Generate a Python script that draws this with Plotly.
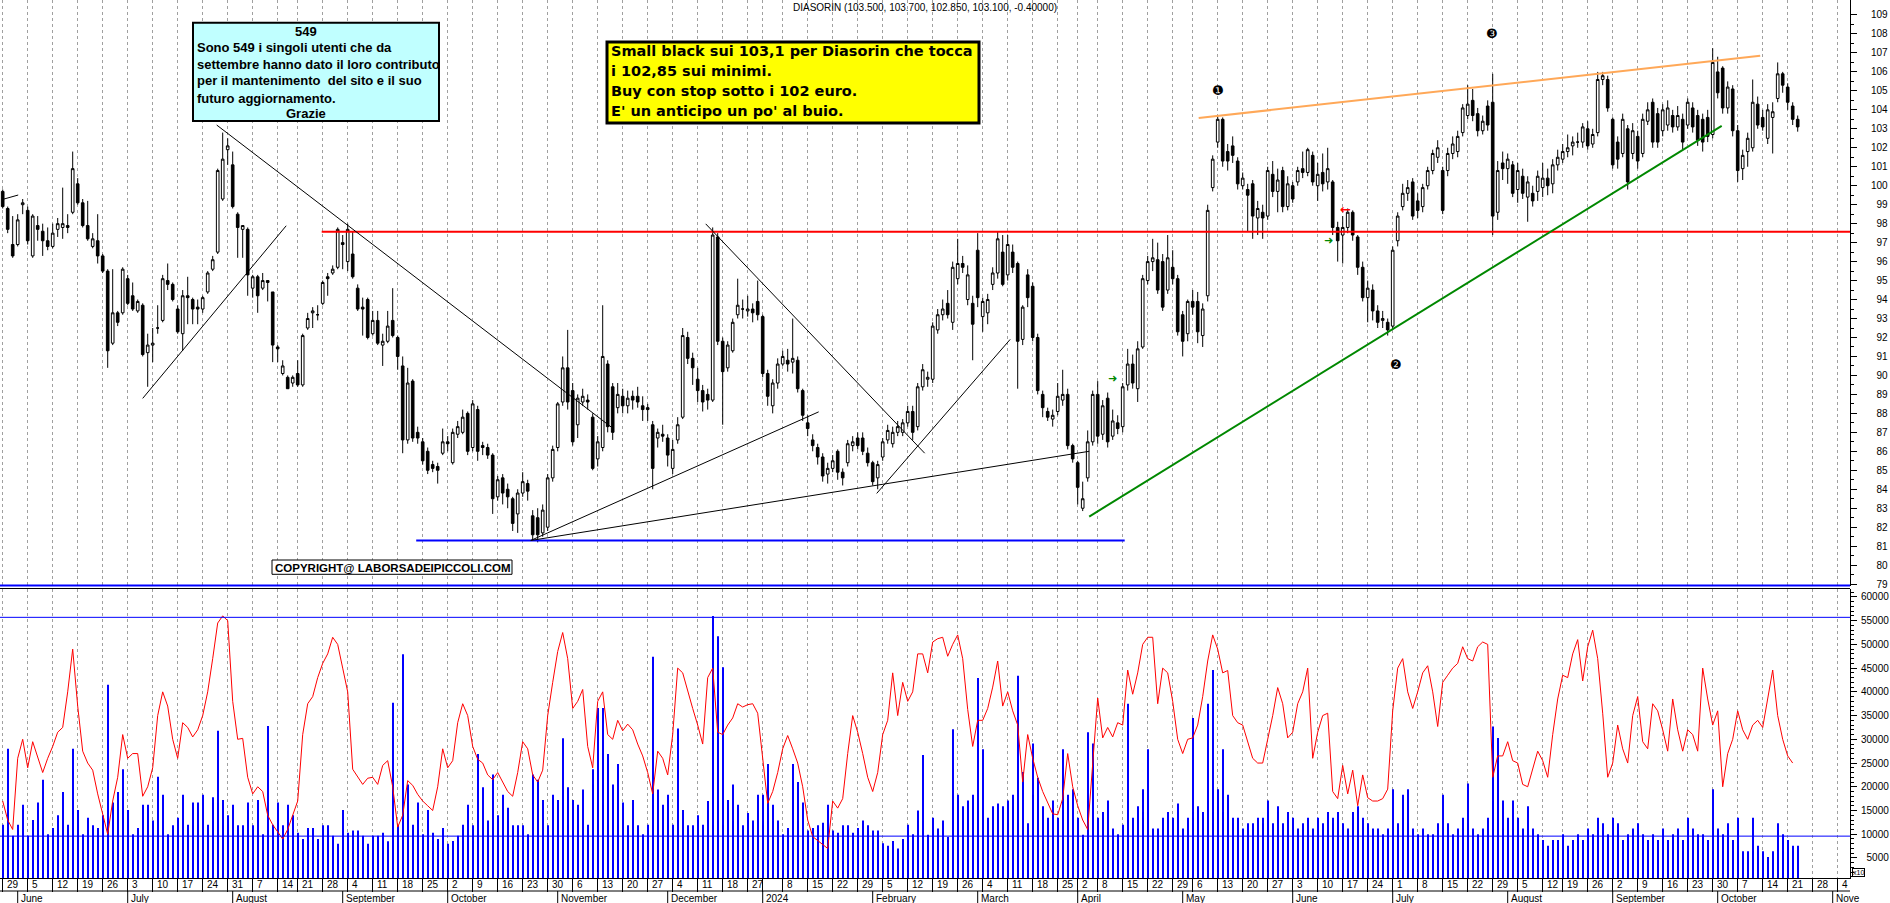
import numpy as np
import pandas as pd
import plotly.graph_objects as go

# ------------------------------------------------------------------ data
holidays = ["2023-08-15", "2023-12-25", "2023-12-26", "2024-01-01",
            "2024-03-29", "2024-04-01", "2024-05-01", "2024-08-15"]
first_day, axis_end = "2023-05-29", "2024-11-08"

opens = [
 99.7,98.8,96.9,96.9,99.0,98.7,96.3,97.9,97.6,97.1,
 96.8,97.7,97.8,97.9,98.6,100.1,99.1,97.9,96.8,97.1,
 96.3,95.5,91.7,93.3,93.3,95.1,94.2,93.4,93.7,91.2,
 91.6,92.5,92.9,95.0,94.8,93.5,92.2,94.2,94.0,93.6,
 93.5,94.4,95.6,96.5,99.3,101.9,101.1,98.5,97.7,97.7,
 94.6,95.2,94.6,95.0,94.4,91.5,90.1,89.9,89.6,90.1,
 89.5,92.5,93.3,93.2,93.8,95.2,95.4,95.7,97.0,96.0,
 96.4,94.6,93.6,94.0,92.2,92.9,91.6,91.8,92.9,92.0,
 90.5,86.6,89.7,87.0,86.5,86.0,85.3,85.2,85.9,86.5,
 85.4,86.9,87.0,88.0,86.2,88.2,86.3,86.2,85.8,83.6,
 84.6,84.0,83.5,82.7,83.8,84.3,82.6,82.5,81.7,82.0,
 84.6,86.2,88.6,90.4,89.2,87.4,88.6,88.7,87.8,85.6,
 86.2,90.6,89.4,88.3,88.9,88.4,88.9,88.9,88.4,88.3,
 87.4,86.7,86.9,86.7,85.1,86.6,87.8,92.0,90.9,89.8,
 89.2,89.0,88.7,97.3,91.8,90.4,91.3,93.2,93.5,93.4,
 93.5,93.9,93.1,90.1,88.4,89.6,90.6,90.8,90.7,90.8,
 89.2,87.5,86.6,86.2,85.7,84.8,85.1,86.0,84.9,85.4,
 86.3,86.7,86.7,85.9,85.4,84.6,85.7,86.6,86.4,87.0,
 87.0,87.5,88.1,87.3,89.4,89.8,89.8,92.4,93.2,93.8,
 92.8,95.1,95.9,94.0,93.8,96.6,93.1,93.3,94.8,95.4,
 96.5,95.3,96.5,95.9,91.9,95.3,94.7,92.0,89.0,88.1,
 87.7,88.1,88.7,89.0,86.3,85.4,83.0,84.6,86.5,89.0,
 86.9,88.8,86.8,87.5,87.3,89.5,90.6,89.3,91.5,95.0,
 96.0,96.1,96.0,94.5,95.7,95.1,93.2,92.2,93.9,93.9,
 92.1,94.2,99.9,102.3,103.5,101.8,102.1,101.3,100.0,99.8,
 100.1,98.3,98.6,98.4,100.6,99.7,100.8,98.9,100.0,100.2,
 100.9,100.7,101.6,100.0,100.7,100.2,100.2,97.8,97.4,97.8,
 98.6,97.3,95.7,94.1,94.5,93.4,92.9,92.8,92.6,97.1,
 98.9,99.6,100.2,99.2,98.9,100.0,100.8,101.5,100.8,100.8,
 101.7,101.8,102.8,103.7,104.5,103.8,102.9,104.2,104.4,98.6,
 101.2,100.9,101.1,99.8,100.5,99.4,99.6,99.7,99.9,100.4,
 100.1,101.1,101.4,101.8,102.1,102.3,102.3,103.0,102.2,102.8,
 105.6,105.6,103.5,102.3,101.7,103.0,101.7,102.6,101.7,103.4,
 104.4,103.8,102.9,103.2,103.7,103.1,103.5,103.2,104.1,103.7,
 103.5,103.6,102.7,106.0,106.2,104.1,105.1,102.9,100.9,101.8,
 102.0,104.3,103.6,102.5,103.6,104.6,105.9,105.2,104.2,103.5]

highs = [
 99.8,98.9,98.4,98.5,99.3,98.9,98.5,98.4,98.0,97.8,
 98.0,98.3,99.9,98.5,101.8,100.4,99.3,99.2,97.5,98.5,
 96.4,95.6,95.6,93.4,95.7,95.3,94.9,94.0,93.8,92.2,
 92.5,93.7,95.3,95.9,94.9,93.7,94.5,95.2,94.1,94.0,
 94.2,95.5,96.3,100.9,102.8,102.5,101.8,98.6,97.9,97.8,
 95.3,95.3,95.4,95.0,94.4,91.6,90.8,90.0,90.0,90.8,
 92.2,93.3,93.6,93.7,95.0,95.4,95.8,97.8,97.4,98.0,
 97.6,94.8,94.1,94.1,93.4,93.4,92.2,93.4,94.6,92.1,
 91.0,90.4,89.8,87.3,86.7,86.2,85.5,85.4,87.2,86.8,
 87.2,87.6,88.2,88.1,88.7,88.4,86.5,86.4,85.9,84.7,
 84.8,84.3,83.6,84.0,84.9,84.5,82.9,83.0,83.2,84.8,
 86.3,88.6,91.0,92.4,89.6,89.0,89.3,89.0,88.0,86.8,
 93.7,90.8,89.6,89.6,89.3,89.2,89.2,89.4,88.9,88.5,
 87.6,87.2,87.4,86.9,86.6,87.8,92.5,92.3,91.2,90.4,
 89.5,89.3,97.8,97.5,92.0,91.8,93.0,95.1,94.0,94.2,
 93.8,95.0,93.2,90.3,89.8,90.9,91.3,91.4,93.0,91.0,
 89.3,87.9,86.9,86.4,85.9,85.4,85.8,86.1,85.1,86.6,
 86.8,87.0,87.0,86.2,85.5,85.5,86.7,87.4,87.3,87.6,
 87.7,88.4,88.4,89.6,90.6,90.2,92.8,93.5,94.0,94.5,
 96.0,97.2,96.3,95.8,94.2,97.5,94.1,94.3,95.7,97.6,
 97.4,97.4,96.9,96.0,93.7,95.6,94.9,92.2,89.2,88.3,
 88.2,89.6,90.3,89.3,86.4,85.5,84.4,87.1,89.2,89.7,
 88.7,89.1,88.2,87.9,89.6,91.4,91.1,91.8,95.3,96.3,
 97.2,97.0,96.4,97.4,96.6,95.3,93.4,94.0,94.5,94.4,
 93.8,99.0,101.6,103.7,103.6,102.2,102.6,101.5,100.7,100.1,
 100.3,99.2,99.0,101.0,101.3,100.9,101.0,100.5,100.2,101.0,
 101.8,102.0,101.8,101.2,101.7,102.0,100.3,98.1,98.4,98.8,
 98.7,97.4,96.0,95.0,94.8,93.7,93.4,93.0,96.8,98.6,
 100.1,100.3,100.4,99.6,100.1,101.0,101.9,102.4,101.0,102.0,
 102.6,102.9,104.3,105.3,105.1,104.1,103.7,104.5,105.9,101.3,
 101.8,101.7,101.3,101.2,100.9,100.5,100.0,100.8,101.2,100.9,
 101.4,101.9,102.2,102.7,102.6,102.8,103.3,103.4,103.0,106.0,
 106.0,105.8,103.6,102.6,103.8,103.2,103.3,102.9,103.8,104.4,
 104.6,104.1,104.3,104.5,104.0,104.2,103.8,104.6,104.4,104.0,
 103.8,104.0,107.25,106.8,106.3,105.5,105.3,103.2,101.9,102.8,
 105.6,104.7,104.0,104.3,104.4,106.5,106.0,105.4,104.4,103.7]

lows = [
 98.8,97.5,96.2,96.8,98.5,96.9,96.2,97.1,96.3,96.6,
 96.7,97.3,97.2,97.5,98.5,99.0,97.8,97.1,96.7,95.9,
 95.4,90.4,91.6,92.6,93.2,93.7,93.4,93.3,91.0,89.4,
 90.7,92.2,92.8,94.5,93.9,92.2,91.3,92.7,92.7,92.7,
 93.3,94.3,95.5,96.4,99.2,101.1,98.8,96.2,96.2,94.2,
 94.1,93.3,94.5,93.9,90.7,90.7,90.0,89.3,89.4,89.4,
 89.4,92.4,92.5,92.9,93.7,94.2,95.3,95.6,95.6,95.5,
 95.1,93.4,92.1,91.9,92.1,91.6,90.5,91.7,92.0,90.3,
 85.9,86.4,86.5,86.4,85.3,84.8,84.9,84.3,85.8,86.0,
 85.3,86.7,86.9,85.8,86.0,85.5,85.8,85.6,82.7,83.4,
 83.2,83.0,81.8,81.7,83.6,83.4,81.3,81.2,81.5,81.8,
 84.4,86.0,88.4,88.2,86.3,86.7,88.4,88.2,85.0,85.2,
 86.0,87.0,86.6,88.0,88.0,88.0,88.2,88.3,87.6,87.6,
 84.0,86.2,86.5,85.2,84.8,86.4,87.7,90.6,89.5,88.6,
 88.1,88.2,88.6,91.6,87.4,90.2,91.2,93.0,93.0,93.1,
 92.8,92.9,89.9,88.4,88.0,89.3,90.5,90.2,90.1,89.1,
 87.6,86.8,86.0,85.3,84.4,84.3,84.9,84.5,84.2,85.2,
 86.0,86.1,85.8,85.2,84.2,84.0,85.5,86.4,86.2,86.8,
 86.8,87.3,86.6,87.1,89.2,89.4,89.6,92.2,92.9,93.0,
 92.4,94.8,95.4,93.7,90.8,93.6,92.3,92.7,94.5,95.1,
 94.7,95.0,95.4,89.3,91.6,93.6,91.8,89.0,87.8,87.6,
 87.3,87.9,88.4,86.1,85.4,83.2,82.85,84.4,86.3,86.4,
 86.6,86.2,86.6,86.9,87.0,89.2,89.3,88.6,91.4,94.8,
 95.5,94.3,93.4,94.3,94.8,92.1,91.0,91.8,93.2,91.7,
 91.5,93.9,99.7,102.0,101.0,100.8,101.2,99.8,99.8,97.6,
 97.2,97.4,97.2,98.2,99.4,98.6,98.6,98.7,99.1,100.0,
 100.4,100.5,100.0,99.2,99.7,99.8,97.4,96.0,95.9,97.5,
 97.1,95.3,93.9,92.8,92.9,92.5,92.5,92.1,92.4,96.8,
 98.7,99.2,98.2,98.3,98.6,99.8,100.6,101.2,98.5,100.5,
 101.4,101.5,102.6,103.5,103.4,102.6,102.7,102.9,97.4,98.2,
 100.3,100.1,99.4,99.1,99.3,98.1,98.9,99.2,99.4,99.5,
 99.6,100.8,101.2,101.5,101.6,102.0,102.0,101.9,102.0,102.6,
 105.3,103.9,100.9,100.9,101.5,99.8,101.4,100.9,101.5,103.2,
 102.0,102.0,102.6,102.9,102.8,102.9,101.9,103.0,102.8,102.1,
 101.8,102.3,102.5,104.6,103.8,103.8,102.6,100.2,100.3,101.0,
 101.8,103.0,102.9,102.2,101.7,104.4,104.9,104.0,103.2,102.85]

closes = [
 98.9,97.7,96.3,98.2,99.1,97.1,98.4,97.7,97.1,96.8,
 97.5,98.0,98.0,97.8,100.9,99.1,97.9,97.2,97.2,96.3,
 95.5,91.3,93.3,92.8,95.6,93.8,93.5,93.9,91.1,91.6,
 91.7,92.5,95.1,94.8,94.0,92.3,94.2,94.1,93.5,93.5,
 94.1,95.4,96.1,100.8,101.4,102.1,98.9,97.8,97.9,95.3,
 95.2,94.2,95.0,94.9,91.6,91.4,90.5,89.3,89.9,89.5,
 92.1,93.0,93.4,93.2,94.9,95.1,95.6,97.7,96.9,97.7,
 95.2,93.5,93.5,92.0,92.9,91.7,91.8,92.6,92.1,91.0,
 86.6,89.6,86.7,86.7,85.5,85.0,85.1,85.0,86.5,86.4,
 87.0,87.3,87.8,86.0,88.5,86.0,86.2,85.8,83.5,84.5,
 83.8,83.6,82.2,83.8,84.4,83.9,81.6,81.6,82.9,84.6,
 86.1,88.5,90.4,88.6,86.5,88.8,88.9,88.6,85.1,86.5,
 91.0,87.3,87.0,89.0,88.4,88.8,88.7,88.6,88.2,88.2,
 85.1,87.0,86.8,85.8,86.1,87.4,92.1,90.9,90.4,89.2,
 88.6,88.7,97.4,91.8,90.2,91.6,92.8,93.7,93.5,93.5,
 93.3,93.2,90.1,88.9,89.6,90.6,91.0,90.6,90.9,89.3,
 87.9,87.2,86.3,85.7,84.7,85.1,85.5,84.9,84.6,86.4,
 86.5,86.3,86.0,85.4,84.4,85.3,86.5,87.1,87.0,87.3,
 87.5,88.1,87.0,89.4,90.3,89.9,92.6,93.2,93.5,93.2,
 95.7,95.9,95.7,95.3,92.7,94.1,93.9,94.0,95.4,97.2,
 94.8,96.9,95.7,91.8,93.6,94.1,92.0,89.2,88.3,87.8,
 87.9,88.9,89.0,86.3,85.6,84.1,83.5,86.5,89.0,86.8,
 88.4,86.5,87.6,87.2,89.4,90.6,89.6,91.4,95.1,96.0,
 96.2,94.5,93.6,96.2,95.1,92.3,91.8,93.9,93.6,92.3,
 93.5,98.7,101.4,103.5,101.3,101.3,101.6,100.1,100.4,99.5,
 98.4,98.8,98.3,100.8,99.7,100.3,98.9,100.1,99.3,100.8,
 100.7,101.9,100.2,100.6,100.1,100.9,97.8,97.1,97.8,98.6,
 97.4,95.7,94.1,94.6,93.4,92.8,93.0,92.4,96.6,98.4,
 99.6,99.9,98.4,98.7,99.9,100.8,101.7,102.0,98.7,101.7,
 102.2,102.6,104.1,104.3,103.7,102.9,103.4,103.2,98.4,100.8,
 100.9,101.4,99.6,100.8,99.6,100.2,99.2,100.5,100.4,100.0,
 101.1,101.5,101.8,102.0,102.3,102.3,103.1,102.1,102.7,105.6,
 105.8,104.1,101.1,101.4,103.5,100.2,102.9,101.3,103.5,104.0,
 102.3,102.3,104.0,104.1,103.1,103.7,102.3,104.4,103.1,102.4,
 102.3,102.6,106.5,104.9,104.1,105.2,102.9,100.8,101.6,102.5,
 104.4,103.2,103.1,104.0,103.9,105.9,105.3,104.4,103.5,103.1]

# volume bars (thousands, as on the x10 scale)
volume_k = [
 12,28,9.7,12,16.2,9.7,13,16.7,21.5,10,
 11.3,14.0,18.9,12,28.0,15.1,10,13.5,11.9,11.3,
 14,41.5,16.7,18.9,23.7,15.1,10,11.3,16.2,16.2,
 12.9,22.1,18.3,10,11.9,13.5,18.3,12,16.7,16.7,
 18.3,12,17.8,31.8,17.2,14,16.2,11.9,11.9,16.7,
 11.9,17.2,10,32.8,12,16.7,11.9,16.2,14.0,10.3,
 9,11.3,11.3,9,11.9,11.9,9.7,8,15.1,10.3,
 10.8,10.8,9.7,8,9.7,9.7,10.3,8.5,37.7,12,
 47.9,20.5,12,16.7,10,15.1,10.3,9,11.3,8,
 8.6,9.7,12,16.2,11.9,26.9,19.9,12.9,22.6,14.0,
 18.3,15.6,11.9,11.9,11.9,10,22.6,21.5,17.2,11.9,
 18.3,17.2,30.2,19.9,17.2,16.2,19.4,12,23.7,36.6,
 36.6,26.9,20.5,24.8,16.7,11.9,17.2,11.9,10,12,
 47.4,19.4,16.2,18.3,12,32.3,15.1,11.9,11.9,14.0,
 12,17,56.0,51.7,45.2,17.2,20.5,16.2,11.9,14.5,
 12.9,18.3,18.3,24.8,16.2,12.9,10,11.3,24.8,21.0,
 16.7,10.8,11.3,11.9,12.4,16.2,10.8,10.3,11.9,11.9,
 10.3,11.3,12.9,11.9,10.8,10.8,8.1,7.6,8.6,7.0,
 9,12,10,15,26.7,9.9,13.5,11.2,12.9,9.4,
 32.1,18.3,15.9,17.1,18.3,42.9,27.9,13.5,15.9,16.5,
 15.9,17.1,18.3,43.4,23.1,12.3,29.1,21.9,15.9,13.5,
 17.1,13.5,27.9,18.3,19.5,13.5,9.9,31.5,29.1,13.5,
 14.7,17.1,11.2,10,12,37.5,13.5,15.9,19.5,27.9,
 11.2,11.2,13.5,14.7,13.5,16.5,11.2,13.5,34.5,15.9,
 14.7,37.5,44.6,19.5,27.9,18.3,13.5,13.5,11.2,12.3,
 12.3,13.5,13.5,17.1,12.3,15.9,12.3,14.7,13.5,11.2,
 12.3,13.5,11.2,13.5,12.3,14.7,13.5,14.7,12.3,11.2,
 14.7,15.9,13.5,12.3,11.2,11.2,10,11.2,19.5,12.3,
 18.3,19.5,11.2,10,11.2,10,10,12.3,18.3,12.3,
 10,11.2,13.5,20.7,11.2,10,11.2,13.5,32.7,30.3,
 17.1,13.5,17.1,13.5,11.2,15.9,11.2,10,8.8,7.6,
 8.8,8.8,10,7.6,8.8,10,8.8,11.2,10,13.5,
 12.3,10,13.5,12.3,8.8,10,11.2,12.3,10,8.8,
 10,8.8,11.2,8.8,10,11.2,8.8,13.5,11.2,10,
 10,8.8,19.5,11.2,10,12.3,8.8,13.5,6.4,6.4,
 13.5,7.6,6.4,5.2,6.4,12.3,10,8.8,7.6,7.6]

# red volume indicator line (thousands)
vol_line_k = [
 17,13,11,26,30,24,29.5,26,23,26,
 28.5,31.5,32.5,40,49,37,27.5,25,23.5,18.5,
 14.5,10,17,22,31,26,27,27,18,20,
 24,35,40,37,30,26,33.5,32.5,30.5,32,
 35,40,47,54.5,56,55,38,30,30.2,22,
 18.5,20,19,14,12,10.5,9,11,14,17,
 31,37.5,39,43,46,48,51.5,50,45,40,
 23.7,22,20.5,21.8,22,20.5,24.5,25.5,20,11.5,
 14,21.3,20.3,18.4,17,16,15,20,28,24,
 25.5,33.5,37.5,35,28.5,25.8,25,22.5,21.5,23,
 21,19,18,23,29.5,28,22.5,21,23.5,35,
 42,48.5,52.5,47,36.5,38,40.5,28.5,24,38,
 40,31,30,34,31.8,33.2,32,29,26.5,23,
 18.5,27.5,26,22.5,31,45,44,40,36.5,33,
 29,43,45,31.5,31,33,34.5,37.5,36.8,37.3,
 37.5,35.5,26,16.5,19,23,28,30.8,28,25,
 20,13,9.5,8.6,7.8,7,17,15.5,17.5,27,
 35,31.5,27,22,19,23,31,34,44,35,
 42,38,40,48,48,44,50.5,51.2,51.5,47.5,
 50,52,47,36.3,28.5,34,34,36.5,41,46.5,
 37,40,36,33,21,31,26,22,19,16.5,
 14.3,14.1,17.5,27,20,16,13,11,25,38.7,
 30.3,32.5,30.5,33.5,33,44.6,39.5,44,50,51.5,
 51.5,37.5,45,44,38,30,27,30,30.3,33,
 39,46.5,52,49,44,44.5,35,33.5,33,29.3,
 26,25,25,30,35,40.9,37.5,30.3,31.5,37.5,
 40,45,26,31.5,35,35.5,19,17.5,24.5,18.5,
 23.5,16,22.5,17.7,17,17,17.5,19.5,36,45,
 47,40,36.5,40,44,45.5,40,32.7,42,43.5,
 45,46,49.5,47,46.5,49.5,50.5,50,22,26.5,
 26.5,29.5,25.5,25,20.5,20,23.5,27.5,25.5,22,
 31,38.5,43.5,43,48,51,42.3,49.5,53,47,
 35.5,22,25,33,28,25,35,39,29.5,28,
 37.5,36,32,27.5,38.5,32,27.5,32,31,27.5,
 45,38.5,33,36,20,27,30,36,32,30,
 33,34,32.5,38.5,44.6,35,30,26.5,25,None]

# levels / trend lines (trading-day index, price)
resistance = (63.8, 97.57)            # red horizontal from index
support = (82.7, 224.4, 81.3)         # blue horizontal: from, to, level
black_lines = [((0.0, 99.28), (3.1, 99.51)),
               ((28.0, 88.79), (56.7, 97.89)),
               ((42.8, 103.2), (121.7, 87.28)),
               ((105.6, 81.3), (163.2, 88.08)),
               ((105.6, 81.3), (217.3, 86.0)),
               ((140.6, 97.99), (184.4, 85.9)),
               ((174.8, 83.78), (201.5, 91.9))]
green_line = ((217.3, 82.56), (343.8, 103.15))
orange_line = ((239.2, 103.57), (351.5, 106.85))
vol_levels = [9600, 55700]

month_labels = ["June", "July", "August", "September", "October", "November",
                "December", "2024", "February", "March", "April", "May", "June",
                "July", "August", "September", "October", "Nove"]
price_ticks = list(range(79, 110))
vol_ticks = list(range(5000, 60001, 5000))

title_text = "DIASORIN (103.500, 103.700, 102.850, 103.100, -0.40000)"
cyan_lines = ["549", "Sono 549 i singoli utenti che da",
              "settembre hanno dato il loro contributo",
              "per il mantenimento  del sito e il suo",
              "futuro aggiornamento.", "Grazie"]
yellow_lines = ["Small black sui 103,1 per Diasorin che tocca",
                "i 102,85 sui minimi.",
                "Buy con stop sotto i 102 euro.",
                "E' un anticipo un po' al buio."]
copyright_text = "COPYRIGHT@ LABORSADEIPICCOLI.COM"

# ------------------------------------------------------------------ axis calendar
hol = pd.to_datetime(holidays)
days = pd.bdate_range(first_day, axis_end)
days = days[~days.isin(hol)]
n = len(closes)
idx = np.arange(n)
XR = [-0.54, 369.46]

wk = days.to_period("W")
mo = days.to_period("M")
week_first = np.r_[True, np.asarray(wk[1:] != wk[:-1])]
month_first = np.r_[False, np.asarray(mo[1:] != mo[:-1])]
week_pos = [i for i in range(len(days)) if week_first[i] and i <= XR[1]]
month_pos = [i for i in range(len(days)) if month_first[i] and i <= XR[1]]

o = np.array(opens); c = np.array(closes)
h = np.maximum(np.array(highs), np.maximum(o, c))
l = np.minimum(np.array(lows), np.minimum(o, c))

# ------------------------------------------------------------------ geometry helpers
W, H = 1890, 903
ML, MR, MT, MB = 0, 40, 0, 25
PW, PH = W - ML - MR, H - MT - MB


def px(X):
    return (X - ML) / PW


def py(Y):
    return (PH - (Y - MT)) / PH


FONT = "Liberation Sans, Arial, sans-serif"
GRID = dict(showgrid=True, gridcolor="#A0A0A0", gridwidth=1, griddash="3px,3px")

fig = go.Figure()
fig.add_trace(go.Candlestick(
    x=idx, open=o, high=h, low=l, close=c, xaxis="x", yaxis="y",
    increasing=dict(line=dict(color="black", width=1), fillcolor="white"),
    decreasing=dict(line=dict(color="black", width=1), fillcolor="black"),
    whiskerwidth=0, showlegend=False, hoverinfo="skip"))
fig.add_trace(go.Bar(
    x=idx, y=[v * 1000 for v in volume_k], xaxis="x2", yaxis="y2", width=0.22,
    marker=dict(color="#0000FF", line=dict(width=0)), showlegend=False,
    hoverinfo="skip"))
fig.add_trace(go.Scatter(
    x=idx, y=[None if v is None else v * 1000 for v in vol_line_k],
    xaxis="x2", yaxis="y2", mode="lines", line=dict(color="#FF0000", width=1),
    showlegend=False, hoverinfo="skip"))

shapes = []
# separators between panels
shapes.append(dict(type="line", xref="paper", yref="paper", x0=0, x1=1,
                   y0=py(585.5), y1=py(585.5), line=dict(color="#0000FF", width=2)))
shapes.append(dict(type="line", xref="paper", yref="paper", x0=0, x1=1,
                   y0=py(588.5), y1=py(588.5), line=dict(color="black", width=1)))
# date rows
shapes.append(dict(type="line", xref="paper", yref="paper", x0=0, x1=1,
                   y0=py(891), y1=py(891), line=dict(color="black", width=1)))
for m in month_pos:
    shapes.append(dict(type="line", xref="x2", yref="paper", x0=m, x1=m,
                       y0=py(891), y1=py(903), line=dict(color="black", width=1)))
# price levels and trend lines
shapes.append(dict(type="line", xref="x", yref="y", x0=resistance[0], x1=XR[1],
                   y0=resistance[1], y1=resistance[1],
                   line=dict(color="#FF0000", width=2)))
shapes.append(dict(type="line", xref="x", yref="y", x0=support[0], x1=support[1],
                   y0=support[2], y1=support[2], line=dict(color="#0000FF", width=2)))
for (a, b) in black_lines:
    shapes.append(dict(type="line", xref="x", yref="y", x0=a[0], y0=a[1],
                       x1=b[0], y1=b[1], line=dict(color="black", width=1)))
shapes.append(dict(type="line", xref="x", yref="y", x0=green_line[0][0],
                   y0=green_line[0][1], x1=green_line[1][0], y1=green_line[1][1],
                   line=dict(color="#008800", width=2)))
shapes.append(dict(type="line", xref="x", yref="y", x0=orange_line[0][0],
                   y0=orange_line[0][1], x1=orange_line[1][0], y1=orange_line[1][1],
                   line=dict(color="#FFA858", width=2)))
for v in vol_levels:
    shapes.append(dict(type="line", xref="paper", yref="y2", x0=0, x1=1, y0=v, y1=v,
                       line=dict(color="#0000FF", width=1)))
# text boxes
shapes.append(dict(type="rect", xref="paper", yref="paper", x0=px(193), x1=px(439),
                   y0=py(121), y1=py(22.7), fillcolor="#C0FFFF",
                   line=dict(color="black", width=2)))
shapes.append(dict(type="rect", xref="paper", yref="paper", x0=px(607), x1=px(979),
                   y0=py(123), y1=py(42), fillcolor="#FFFF00",
                   line=dict(color="black", width=3)))
shapes.append(dict(type="rect", xref="paper", yref="paper", x0=px(272), x1=px(512),
                   y0=py(574.3), y1=py(560), fillcolor="white",
                   line=dict(color="black", width=1)))

ann = []


def text(X, Y, s, size=10, family=FONT, color="black", xanchor="left", bold=False):
    ann.append(dict(xref="paper", yref="paper", x=px(X), y=py(Y),
                    text=("<b>%s</b>" % s) if bold else s, showarrow=False,
                    xanchor=xanchor, yanchor="middle",
                    font=dict(size=size, family=family, color=color)))


text(924.5, 8, title_text, size=10, xanchor="center")
cy = [31.7, 47.7, 64.3, 81, 98, 113.3]
for k, s in enumerate(cyan_lines):
    if k in (0, 5):
        text(306, cy[k], s, size=13, bold=True, xanchor="center")
    else:
        text(195, cy[k], s, size=13, bold=True)
for k, s in enumerate(yellow_lines):
    text(609, 50.7 + 20 * k, s, size=14.5, family="DejaVu Sans", bold=True)
text(392, 567.5, copyright_text, size=11.5, bold=True, xanchor="center")
text(1217.7, 90.8, "\u2776", size=13, family="DejaVu Sans", xanchor="center")
text(1396.4, 364, "\u2777", size=13, family="DejaVu Sans", xanchor="center")
text(1492, 33, "\u2778", size=13, family="DejaVu Sans", xanchor="center")
text(1112.8, 378.5, "\u279C", size=11, family="DejaVu Sans", color="#008800",
     xanchor="center")
text(1328, 240.6, "\u279C", size=11, family="DejaVu Sans", color="#008800",
     xanchor="center")
text(1345.8, 210, "\u2190", size=13, family="DejaVu Sans", color="#FF0000",
     bold=True, xanchor="center")

# date labels
for p in week_pos:
    d = days[p]
    lab = "" if (d.month == 1 and month_first[p]) else str(d.day)
    if lab:
        ann.append(dict(xref="x2", yref="paper", x=p + 0.4, y=py(884.5), text=lab,
                        showarrow=False, xanchor="left", yanchor="middle",
                        font=dict(size=10, family=FONT, color="black")))
for k, p in enumerate(month_pos):
    ann.append(dict(xref="x2", yref="paper", x=p + 0.35, y=py(898.5),
                    text=month_labels[k], showarrow=False, xanchor="left",
                    yanchor="middle", font=dict(size=10, family=FONT, color="black")))
ann.append(dict(xref="paper", yref="paper", x=px(1852), y=py(872), text="x10",
                showarrow=False, xanchor="left", yanchor="middle", borderwidth=1,
                bordercolor="black", borderpad=0,
                font=dict(size=7, family=FONT, color="black")))

FS = "\u2007"
price_text = [(FS + str(t)) if t < 100 else str(t) for t in price_ticks]
vol_text = [(FS + str(t)) if t < 10000 else str(t) for t in vol_ticks]

fig.update_layout(
    width=W, height=H, autosize=False,
    margin=dict(l=ML, r=MR, t=MT, b=MB, pad=0),
    paper_bgcolor="white", plot_bgcolor="white",
    showlegend=False, hovermode=False, boxgap=0.25,
    xaxis=dict(domain=[0, 1], anchor="y", range=XR, tickvals=week_pos,
               showticklabels=False, ticks="", zeroline=False, showline=False,
               rangeslider=dict(visible=False), fixedrange=True, **GRID),
    yaxis=dict(domain=[py(586), 1], anchor="x", side="right",
               range=[78.90, 109.79], tickmode="array", tickvals=price_ticks,
               ticktext=price_text, ticks="outside", ticklen=6, tickwidth=1,
               tickcolor="black", ticklabelstandoff=12,
               minor=dict(tickvals=[t + 0.5 for t in price_ticks[:-1]],
                          ticks="outside", ticklen=3, tickcolor="black",
                          showgrid=False),
               showline=True, linecolor="black", linewidth=1, showgrid=False,
               zeroline=False, tickfont=dict(size=10, family=FONT, color="black")),
    xaxis2=dict(domain=[0, 1], anchor="y2", range=XR, tickvals=week_pos,
                showticklabels=False, ticks="outside", ticklen=13, tickwidth=1,
                tickcolor="black", zeroline=False, showline=True,
                linecolor="black", linewidth=1, fixedrange=True, **GRID),
    yaxis2=dict(domain=[0, py(589)], anchor="x2", side="right",
                range=[780, 61670], tickmode="array", tickvals=vol_ticks,
                ticktext=vol_text, ticks="outside", ticklen=6, tickwidth=1,
                tickcolor="black", ticklabelstandoff=2,
                minor=dict(tickvals=[t for t in range(1000, 61001, 1000)
                                     if t % 5000], ticks="outside", ticklen=3,
                           tickcolor="black", showgrid=False),
                showline=True, linecolor="black", linewidth=1, showgrid=False,
                zeroline=False, tickfont=dict(size=10, family=FONT, color="black")),
    shapes=shapes, annotations=ann,
)

fig.write_html("out.html", config={"displayModeBar": False},
               post_script="document.body.style.margin='0';")
